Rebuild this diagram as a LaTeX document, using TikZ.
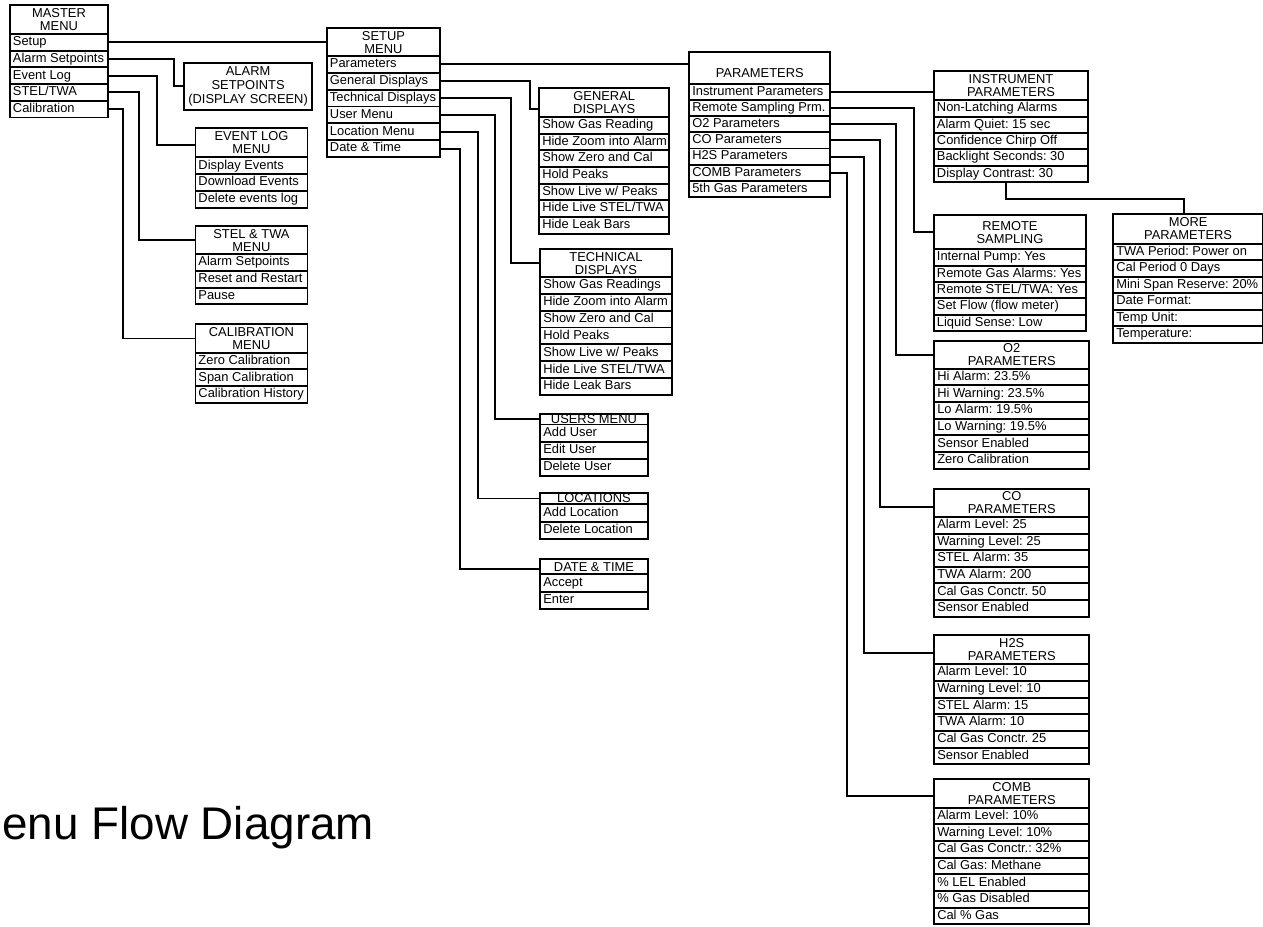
\documentclass[tikz,border=0pt]{standalone}
\usepackage{fontspec}
\setmainfont{Liberation Sans}
\frenchspacing
\tikzset{
  box/.style={draw, line width=1.9pt, inner sep=0pt, anchor=north west, font=\fontsize{12.9}{13}\selectfont},
  hdr/.style={box, align=center},
  itm/.style={box, inner xsep=3pt, text height=9.4pt, text depth=2.7pt},
  conn/.style={line width=1.9pt},
  oneline/.style={text height=9.3pt, text depth=0.5pt},
}
% [#1 header opts] #2 name #3 left #4 right #5 top #6 header bottom #7 row height #8 header text #9 rows
\newcommand\mkmenu[9][]{%
  \pgfmathsetmacro\mw{#4-#3}%
  \pgfmathsetmacro\hh{#6-#5}%
  \node[hdr, minimum width=\mw pt, minimum height=\hh pt, #1] (#2h) at (#3,#5) {#8};
  \foreach \rowtxt [count=\i] in {#9} {
    \pgfmathsetmacro\yy{#6+(\i-1)*#7}
    \node[itm, minimum width=\mw pt, minimum height=#7 pt] (#2\i) at (#3,\yy) {\makebox[\dimexpr\mw pt-6pt\relax][l]{\rowtxt}};
  }
}
\begin{document}
\frenchspacing
\begin{tikzpicture}[x=1pt,y=-1pt]
\useasboundingbox (0,0) rectangle (1263,926);
\clip (0,0) rectangle (1263,926);

% ---- master column
\mkmenu{m}{9}{107}{4}{33}{16.7}{MASTER\\MENU}{Setup,Alarm Setpoints,Event Log,STEL/TWA,Calibration}
\node[hdr, minimum width=127.7pt, minimum height=47.3pt, font=\fontsize{12.9}{14}\selectfont] (asp) at (183.3,61.7) {ALARM\\SETPOINTS\\(DISPLAY SCREEN)};
\mkmenu{ev}{194.5}{306.5}{126.7}{156.3}{16.8}{EVENT LOG\\MENU}{Display Events,Download Events,Delete events log}
\mkmenu{st}{194.5}{306.5}{225}{253.3}{16.7}{STEL \& TWA\\MENU}{Alarm Setpoints,Reset and Restart,Pause}
\mkmenu{ca}{194.5}{306.5}{323.3}{351.7}{16.7}{CALIBRATION\\MENU}{Zero Calibration,Span Calibration,Calibration History}

% ---- setup column
\mkmenu{s}{326}{439}{27.3}{55}{16.85}{SETUP\\MENU}{Parameters,General Displays,Technical Displays,User Menu,Location Menu,Date \& Time}
\mkmenu{gd}{538.3}{668.3}{86.7}{116}{16.67}{GENERAL\\DISPLAYS}{Show Gas Reading,Hide Zoom into Alarm,Show Zero and Cal,Hold Peaks,Show Live w/ Peaks,Hide Live STEL/TWA,Hide Leak Bars}
\mkmenu{td}{539.3}{670.7}{248.3}{276}{16.86}{TECHNICAL\\DISPLAYS}{Show Gas Readings,Hide Zoom into Alarm,Show Zero and Cal,Hold Peaks,Show Live w/ Peaks,Hide Live STEL/TWA,Hide Leak Bars}
\mkmenu[oneline]{us}{539.3}{646.7}{412.7}{423.5}{17.1}{USERS MENU}{Add User,Edit User,Delete User}
\mkmenu[oneline]{lo}{539.3}{646.7}{491.7}{503.3}{17.5}{LOCATIONS}{Add Location,Delete Location}
\mkmenu[oneline]{dt}{539.3}{646.7}{558.3}{573.3}{17.5}{DATE \& TIME}{Accept,Enter}

% ---- parameters column
\mkmenu[text height=25.3pt, text depth=6.4pt]{p}{688.3}{829.3}{51}{82.7}{16.2}{PARAMETERS}{Instrument Parameters,Remote Sampling Prm.,O2 Parameters,CO Parameters,H2S Parameters,COMB Parameters,5th Gas Parameters}
\mkmenu{in}{933}{1087}{70}{99.3}{16.34}{INSTRUMENT\\PARAMETERS}{Non-Latching Alarms,Alarm Quiet: 15 sec,Confidence Chirp Off,Backlight Seconds: 30,Display Contrast: 30}
\mkmenu{rs}{933}{1085}{214}{248.3}{16.34}{REMOTE\\SAMPLING}{Internal Pump: Yes,Remote Gas Alarms: Yes,Remote STEL/TWA: Yes,Set Flow (flow meter),Liquid Sense: Low}
\mkmenu{mo}{1112.3}{1262}{212.7}{242.7}{16.5}{MORE\\PARAMETERS}{TWA Period: Power on,Cal Period 0 Days,Mini Span Reserve: 20\%,Date Format:,Temp Unit:,Temperature:}
\mkmenu{ox}{933.3}{1088.3}{340}{367.7}{16.67}{O2\\PARAMETERS}{Hi Alarm: 23.5\%,Hi Warning: 23.5\%,Lo Alarm: 19.5\%,Lo Warning: 19.5\%,Sensor Enabled,Zero Calibration}
\mkmenu{co}{933.3}{1088.3}{487.7}{516}{16.6}{CO\\PARAMETERS}{Alarm Level: 25,Warning Level: 25,STEL Alarm: 35,TWA Alarm: 200,Cal Gas Conctr. 50,Sensor Enabled}
\mkmenu{hs}{933.3}{1088.3}{634}{663.3}{16.67}{H2S\\PARAMETERS}{Alarm Level: 10,Warning Level: 10,STEL Alarm: 15,TWA Alarm: 10,Cal Gas Conctr. 25,Sensor Enabled}
\mkmenu{cb}{933.3}{1088.3}{778.3}{806.7}{16.67}{COMB\\PARAMETERS}{Alarm Level: 10\%,Warning Level: 10\%,Cal Gas Conctr.: 32\%,Cal Gas: Methane,\% LEL Enabled,\% Gas Disabled,Cal \% Gas}

% ---- connectors
\draw[conn] (m1.east) -- (m1.east -| sh.west);
\draw[conn] (m2.east) -- ++(65.3,0) |- (asp.west);
\draw[conn] (m3.east) -- ++(48,0) |- ([yshift=-2.5pt]evh.west);
\draw[conn] (m4.east) -- ++(30.3,0) |- (sth.west);
\draw[conn] (m5.east) -- ++(13.7,0) |- (cah.west);

\draw[conn] (s1.east) -- (s1.east -| ph.west);
\draw[conn] (s2.east) -- ++(89.3,0) |- ([yshift=-7pt]gdh.west);
\draw[conn] (s3.east) -- ++(70.3,0) |- (tdh.west);
\draw[conn] (s4.east) -- ++(54.3,0) |- (ush.west);
\draw[conn] (s5.east) -- ++(37,0) |- (loh.west);
\draw[conn] (s6.east) -- ++(19.3,0) |- ([yshift=-2.5pt]dth.west);

\draw[conn] (p1.east) -- (p1.east -| inh.west);
\draw[conn] (p2.east) -- ++(82.7,0) |- (rsh.west);
\draw[conn] (p3.east) -- ++(65,0) |- (oxh.west);
\draw[conn] (p4.east) -- ++(49,0) |- ([yshift=-4pt]coh.west);
\draw[conn] (p5.east) -- ++(32.4,0) |- ([yshift=-3.6pt]hsh.west);
\draw[conn] (p6.east) -- ++(15.7,0) |- ([yshift=-2.5pt]cbh.west);

\draw[conn] ([xshift=-5pt]in5.south) -- ++(0,15.7) -| ([xshift=-4.5pt]moh.north);

% ---- title
\node[anchor=base west, inner sep=0pt, font=\fontsize{45.8}{50}\selectfont] (title) at (-36,839) {Menu Flow Diagram};
\end{tikzpicture}
\end{document}
